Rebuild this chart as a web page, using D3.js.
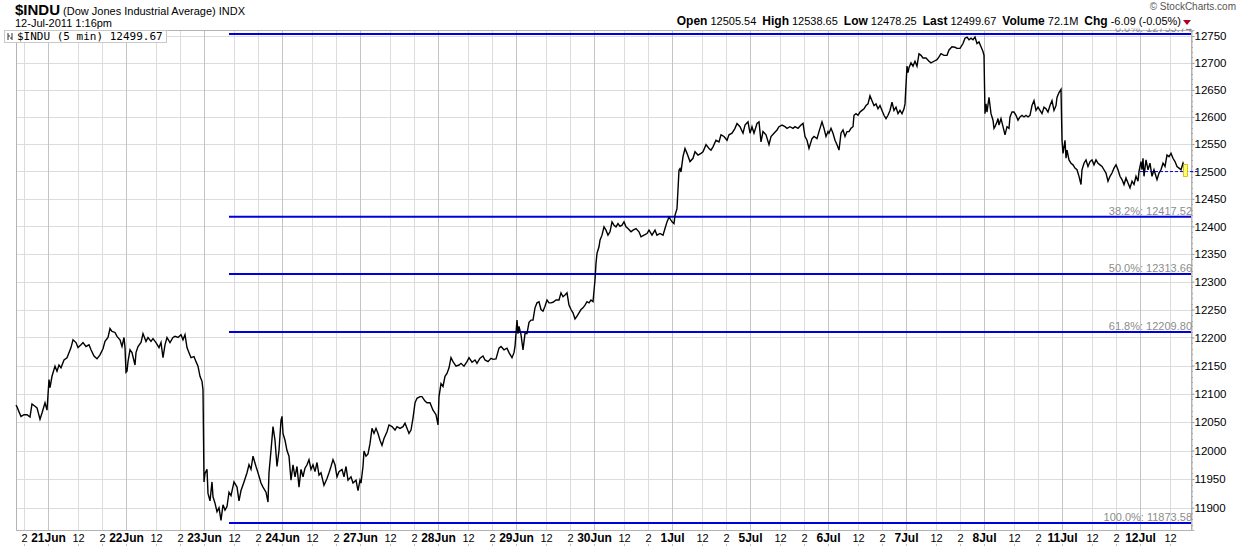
<!DOCTYPE html>
<html>
<head>
<meta charset="utf-8">
<script src="https://cdn.jsdelivr.net/npm/d3@7"></script>
<style>
  body { margin: 0; background: #fff; }
  svg text { font-family: "Liberation Sans", Arial, sans-serif; }
</style>
</head>
<body>
<div id="chartArea"></div>
<script>
// trading days shown (20Jun is a partial session, 12Jul runs until 1:15pm)
const days = ['20Jun','21Jun','22Jun','23Jun','24Jun','27Jun','28Jun','29Jun','30Jun',
              '1Jul','5Jul','6Jul','7Jul','8Jul','11Jul','12Jul']
const barsPerDay = 78        // 5 min bars, 9:30 - 16:00
const firstBarOffset = 46    // first bar of 20Jun is 13:20
const sessionTicks = [[0, null], [30, '12'], [54, '2']]

const yTicks = [11900,11950,12000,12050,12100,12150,12200,12250,12300,12350,
                12400,12450,12500,12550,12600,12650,12700,12750]

const fibLabels = ['0.0%','38.2%','50.0%','61.8%','100.0%']
const fibValues = [12753.74, 12417.52, 12313.66, 12209.80, 11873.58]
const fibStartBar = 213

const quote = [['Open','12505.54'],['High','12538.65'],['Low','12478.25'],
               ['Last','12499.67'],['Volume','72.1M'],['Chg','-6.09 (-0.05%)']]
const lastValue = 12499.67

// [bar number, close]
const trace = [
  [0,12080],[1,12077],[3,12068],[5,12060],[8,12063],[11,12063],[14,12059],[16,12082],[19,12078],[21,12075],[24,12055],[26,12066],[29,12084],[31,12071],
  [33,12125],[34,12111],[36,12131],[39,12149],[41,12140],[43,12151],[45,12146],[48,12160],[51,12164],[55,12182],[57,12196],[60,12191],[62,12182],[65,12187],[67,12191],[70,12184],[73,12187],[75,12178],[78,12167],[81,12162],[84,12169],[87,12180],[89,12193],[92,12200],[94,12216],[96,12211],[99,12209],[101,12202],[104,12196],[106,12184],[108,12200],[109,12182],
  [110,12138],[111,12140],[112,12157],[114,12178],[116,12173],[119,12151],[120,12173],[122,12184],[125,12191],[127,12207],[130,12193],[132,12200],[135,12193],[137,12198],[140,12191],[143,12182],[145,12191],[147,12164],[149,12187],[151,12200],[154,12191],[157,12200],[159,12202],[162,12200],[165,12205],[167,12196],[169,12205],[171,12182],[173,12173],[175,12164],[178,12166],[180,12157],[182,12149],[184,12131],[186,12122],[187,12107],
  [188,11945],[189,11960],[191,11967],[192,11925],[194,11912],[196,11945],[197,11919],[199,11908],[201,11893],[203,11900],[205,11878],[207,11905],[209,11896],[211,11902],[213,11927],[215,11921],[218,11945],[221,11936],[223,11912],[225,11930],[228,11945],[231,11961],[233,11975],[235,11967],[237,11990],[240,11972],[242,11961],[245,11943],[247,11936],[250,11927],[252,11910],[253,11961],[255,12000],[257,12042],[259,12018],[261,11972],[263,12000],[265,12053],
  [266,12060],[267,12030],[269,12018],[271,12000],[273,11990],[275,11948],[277,11975],[279,11954],[281,11972],[283,11936],[285,11967],[287,11954],[289,11969],[291,11975],[293,11984],[295,11967],[297,11975],[299,11963],[301,11979],[303,11957],[305,11961],[308,11939],[311,11951],[313,11961],[315,11972],[317,11984],[319,11975],[321,11954],[323,11963],[326,11967],[328,11954],[330,11972],[332,11948],[335,11954],[337,11943],[340,11948],[342,11930],
  [344,11948],[345,11943],[347,11972],[348,11999],[350,11990],[352,11994],[354,12012],[356,12039],[358,12030],[360,12039],[362,12030],[364,12018],[366,12009],[368,12021],[371,12033],[373,12045],[376,12042],[379,12036],[381,12042],[384,12039],[387,12042],[389,12048],[391,12039],[393,12030],[395,12036],[397,12057],[399,12084],[401,12092],[404,12095],[406,12095],[409,12087],[411,12084],[414,12084],[417,12071],[420,12063],
  [422,12045],[423,12095],[425,12118],[427,12113],[429,12131],[431,12136],[433,12146],[435,12164],[437,12157],[440,12149],[443,12151],[445,12154],[448,12149],[451,12157],[453,12164],[456,12156],[459,12160],[461,12154],[464,12163],[467,12167],[469,12160],[472,12157],[475,12163],[477,12161],[480,12162],[483,12181],[485,12184],[488,12178],[491,12181],[493,12173],[496,12164],[498,12173],[499,12184],
  [501,12231],[502,12207],[503,12220],[505,12205],[507,12178],[509,12207],[511,12207],[513,12227],[515,12231],[517,12231],[519,12253],[521,12262],[523,12264],[525,12250],[527,12247],[529,12256],[531,12267],[533,12262],[535,12262],[537,12263],[540,12267],[543,12267],[545,12280],[547,12273],[549,12276],[551,12280],[553,12258],[555,12250],[557,12244],[559,12233],[561,12238],[563,12244],[565,12250],[567,12253],[569,12258],[571,12264],[573,12262],[575,12267],[577,12264],
  [579,12303],[580,12333],[581,12351],[583,12363],[584,12375],[586,12384],[588,12399],[590,12393],[592,12384],[594,12390],[596,12408],[598,12402],[600,12399],[602,12405],[604,12400],[606,12402],[608,12408],[610,12399],[612,12396],[615,12390],[617,12393],[620,12396],[623,12390],[625,12381],[628,12384],[631,12387],[633,12393],[636,12384],[639,12393],[641,12384],[644,12387],[647,12384],[649,12396],[651,12408],[653,12417],[655,12411],
  [656,12408],[658,12405],[659,12420],[661,12432],[663,12502],[664,12505],[665,12499],[667,12527],[669,12542],[671,12533],[674,12518],[677,12524],[679,12536],[682,12530],[685,12533],[687,12536],[690,12549],[693,12542],[695,12539],[697,12545],[700,12557],[703,12554],[705,12567],[708,12564],[711,12557],[713,12567],[716,12570],[719,12579],[721,12588],[724,12582],[727,12570],[729,12585],[732,12591],
  [734,12570],[736,12582],[738,12570],[741,12588],[743,12591],[745,12554],[747,12573],[750,12567],[753,12549],[755,12564],[758,12570],[761,12576],[763,12582],[766,12585],[769,12582],[771,12579],[774,12582],[777,12579],[779,12582],[782,12579],[785,12585],[787,12588],[789,12564],[791,12557],[793,12542],[796,12560],[798,12564],[801,12560],[803,12573],[806,12591],[808,12579],[810,12564],
  [812,12573],[813,12570],[815,12579],[817,12570],[819,12557],[821,12549],[823,12539],[825,12570],[827,12576],[829,12564],[831,12573],[833,12573],[835,12579],[837,12582],[838,12603],[840,12606],[842,12603],[844,12609],[846,12612],[848,12615],[850,12621],[852,12624],[854,12639],[856,12630],[858,12621],[860,12624],[862,12615],[864,12621],[866,12612],[868,12603],[870,12597],[872,12603],[874,12612],[876,12627],[878,12612],[880,12618],[882,12606],[884,12612],[886,12606],[888,12615],[889,12624],
  [891,12694],[892,12682],[893,12691],[895,12700],[897,12694],[899,12703],[901,12694],[903,12717],[905,12714],[907,12709],[910,12709],[913,12703],[915,12700],[918,12703],[921,12706],[923,12711],[925,12717],[928,12714],[931,12714],[933,12724],[936,12730],[939,12729],[941,12727],[944,12727],[947,12736],[949,12746],[951,12748],[953,12743],[955,12746],[957,12743],[959,12748],[961,12736],[963,12739],[965,12730],[967,12721],
  [968,12714],[969,12606],[970,12624],[971,12609],[973,12636],[974,12621],[975,12606],[977,12594],[978,12579],[979,12582],[981,12591],[982,12597],[983,12585],[985,12597],[987,12582],[989,12567],[991,12582],[993,12579],[994,12600],[996,12609],[998,12609],[1000,12603],[1002,12594],[1004,12600],[1006,12603],[1008,12600],[1010,12603],[1012,12600],[1014,12603],[1016,12621],[1018,12630],[1020,12612],[1022,12618],[1024,12612],[1026,12606],[1028,12618],[1030,12615],[1032,12609],[1034,12621],[1036,12630],[1038,12612],[1040,12621],[1041,12636],[1043,12645],[1045,12651],
  [1046,12557],[1047,12533],[1049,12557],[1050,12524],[1051,12539],[1053,12521],[1055,12515],[1057,12512],[1059,12506],[1061,12503],[1063,12491],[1065,12476],[1066,12503],[1068,12515],[1070,12521],[1072,12509],[1074,12518],[1076,12521],[1078,12512],[1080,12521],[1082,12515],[1084,12512],[1086,12509],[1088,12503],[1090,12497],[1092,12482],[1094,12491],[1096,12497],[1098,12506],[1100,12512],[1102,12503],[1104,12491],[1106,12485],[1108,12476],[1110,12488],[1112,12479],[1114,12470],[1116,12482],[1118,12476],[1120,12491],[1122,12482],[1123,12500],
  [1125,12518],[1126,12503],[1127,12524],[1128,12491],[1130,12521],[1132,12503],[1134,12515],[1136,12491],[1138,12503],[1141,12485],[1143,12497],[1145,12503],[1147,12515],[1149,12509],[1151,12530],[1153,12527],[1155,12533],[1157,12524],[1159,12518],[1161,12509],[1163,12506],[1165,12503],[1167,12515],[1168,12509],[1169,12499.67]
]

let svgWidth = 1240
let svgHeight = 546
let plot = {left: 16, right: 1191, top: 30, bottom: 530}

let xScale = d3.scaleLinear()
              .domain([0, 1175])
              .range([plot.left, plot.right])

let yScale = d3.scaleLog()
              .domain([11861.3, 12761.2])
              .range([plot.bottom, plot.top])

let svg = d3.select('#chartArea')
    .append('svg')
    .attr('width', svgWidth)
    .attr('height', svgHeight)
    .style('display', 'block')
    .style('background', '#fff')

svg.append('clipPath').attr('id', 'fibclip')
    .append('rect')
    .attr('x', 0).attr('y', 28.5).attr('width', svgWidth).attr('height', 520)

// session tick positions (bar numbers) for every day
let sessionMarks = []
days.forEach(function(day, k){
  let start = k * barsPerDay - firstBarOffset
  sessionTicks.forEach(function(t){
    let bar = start + t[0]
    if (bar >= 0 && bar <= 1175) {
      sessionMarks.push({bar: bar, label: t[1] || day, isDay: t[1] === null})
    }
  })
})

let grid = svg.append('g')
grid.selectAll('line.hgrid')
    .data(yTicks)
    .enter()
    .append('line')
    .attr('x1', plot.left).attr('x2', plot.right)
    .attr('y1', d => Math.round(yScale(d)) + 0.5)
    .attr('y2', d => Math.round(yScale(d)) + 0.5)
    .attr('stroke', '#dcdcdc')

grid.selectAll('line.vgrid')
    .data(sessionMarks)
    .enter()
    .append('line')
    .attr('x1', d => Math.round(xScale(d.bar)) + 0.5)
    .attr('x2', d => Math.round(xScale(d.bar)) + 0.5)
    .attr('y1', plot.top).attr('y2', plot.bottom)
    .attr('stroke', d => d.isDay ? '#c4c4c4' : '#dcdcdc')

// plot frame
svg.append('rect')
    .attr('x', plot.left + 0.5).attr('y', plot.top + 0.5)
    .attr('width', plot.right - plot.left).attr('height', plot.bottom - plot.top)
    .attr('fill', 'none')
    .attr('stroke', '#b4b4b4')

// right price axis
let yAxis = d3.axisRight(yScale)
    .tickValues(yTicks)
    .tickFormat(d3.format('d'))
    .tickSize(3)
let ya = svg.append('g')
    .attr('transform', `translate(${plot.right + 0.5},0)`)
    .call(yAxis)
ya.select('.domain').attr('stroke', '#b4b4b4')
ya.selectAll('.tick line').attr('stroke', '#999')
ya.selectAll('.tick text')
    .attr('x', 3)
    .attr('fill', '#000')
    .style('font-size', '11.5px')
    .style('font-family', '"Liberation Sans", Arial, sans-serif')

// minor ticks every 10 points
let minor = d3.range(11870, 12761, 10)
svg.append('g').selectAll('line')
    .data(minor)
    .enter()
    .append('line')
    .attr('x1', plot.right).attr('x2', plot.right + 2)
    .attr('y1', d => Math.round(yScale(d)) + 0.5)
    .attr('y2', d => Math.round(yScale(d)) + 0.5)
    .attr('stroke', '#aaa')

// time axis labels
let xl = svg.append('g')
xl.selectAll('text')
    .data(sessionMarks)
    .enter()
    .append('text')
    .attr('x', d => xScale(d.bar) + 0.5)
    .attr('y', 542)
    .attr('text-anchor', 'middle')
    .style('font-size', d => d.isDay ? '12px' : '11px')
    .style('font-weight', d => d.isDay ? 'bold' : 'normal')
    .text(d => d.label)
xl.selectAll('line')
    .data(sessionMarks)
    .enter()
    .append('line')
    .attr('x1', d => Math.round(xScale(d.bar)) + 0.5)
    .attr('x2', d => Math.round(xScale(d.bar)) + 0.5)
    .attr('y1', 544).attr('y2', 546)
    .attr('stroke', '#bbb')

// fibonacci retracement lines
let fib = svg.append('g')
fib.selectAll('line')
    .data(fibValues)
    .enter()
    .append('line')
    .attr('x1', xScale(fibStartBar)).attr('x2', plot.right)
    .attr('y1', d => yScale(d)).attr('y2', d => yScale(d))
    .attr('stroke', '#0000dd')
    .attr('stroke-width', 2)
fib.append('g')
    .attr('clip-path', 'url(#fibclip)')
    .selectAll('text')
    .data(fibValues)
    .enter()
    .append('text')
    .attr('x', plot.right + 1)
    .attr('y', d => yScale(d) - 2)
    .attr('text-anchor', 'end')
    .attr('fill', '#8c8c8c')
    .style('font-size', '11px')
    .text((d, i) => fibLabels[i] + ': ' + d.toFixed(2))

// price line
let line = d3.line()
    .x(d => xScale(d[0]))
    .y(d => yScale(d[1]))
svg.append('path')
    .datum(trace)
    .attr('d', line)
    .attr('fill', 'none')
    .attr('stroke', '#000')
    .attr('stroke-width', 1.4)
    .attr('stroke-linejoin', 'miter')

// last value marker
let lastBar = trace[trace.length - 1][0]
svg.append('line')
    .attr('x1', xScale(1124)).attr('x2', xScale(lastBar + 14))
    .attr('y1', yScale(lastValue)).attr('y2', yScale(lastValue))
    .attr('stroke', '#0000cc')
    .attr('stroke-dasharray', '3,2')
svg.append('rect')
    .attr('x', xScale(lastBar) - 1.5).attr('y', yScale(lastValue) - 7)
    .attr('width', 4).attr('height', 12)
    .attr('fill', '#ffff66')
    .attr('stroke', '#c8b400')
    .attr('stroke-width', 0.8)

// legend inside plot
let lg = svg.append('g')
lg.append('rect')
    .attr('x', 4.5).attr('y', 30.5).attr('width', 162).attr('height', 12)
    .attr('fill', '#fff')
    .attr('stroke', '#c8c8c8')
lg.append('path')
    .attr('d', 'M8,33 L8,40 M8,36 L10,36 M12,33 L12,40 M10,38 L12,38')
    .attr('stroke', '#333').attr('fill', 'none')
lg.append('text')
    .attr('x', 17).attr('y', 40)
    .style('font-family', '"DejaVu Sans Mono", monospace')
    .style('font-size', '11px')
    .text('$INDU (5 min) 12499.67')

// header
let hd = svg.append('text').attr('x', 15).attr('y', 15)
hd.append('tspan').style('font-size', '15px').style('font-weight', 'bold').text('$INDU')
hd.append('tspan').style('font-size', '11px').text(' (Dow Jones Industrial Average) INDX')
svg.append('text').attr('x', 15).attr('y', 27)
    .style('font-size', '11px')
    .text('12-Jul-2011 1:16pm')

svg.append('text').attr('x', 1236).attr('y', 10)
    .attr('text-anchor', 'end')
    .attr('fill', '#555')
    .style('font-size', '10px')
    .text('\u00a9 StockCharts.com')

let qt = svg.append('text').attr('x', 1181).attr('y', 25).attr('text-anchor', 'end')
quote.forEach(function(q, i){
  qt.append('tspan').style('font-size', '12px').style('font-weight', 'bold')
    .attr('dx', i ? 6 : 0)
    .text(q[0])
  qt.append('tspan').style('font-size', '11px').attr('dx', 3).text(q[1])
})
svg.append('path')
    .attr('d', 'M1183,20 L1191,20 L1187,25 Z')
    .attr('fill', '#b00020')
</script>
</body>
</html>
